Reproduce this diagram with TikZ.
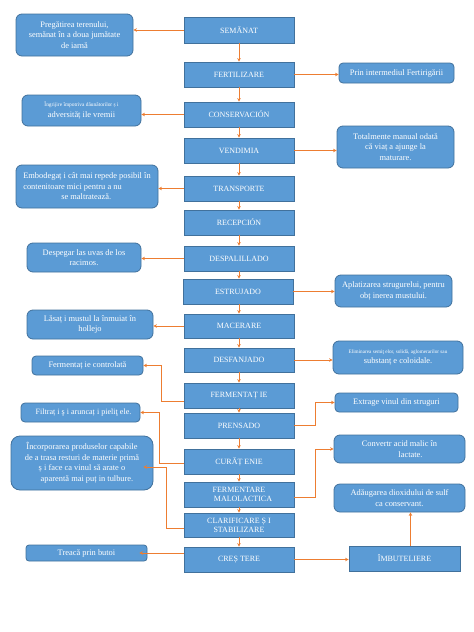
\documentclass[tikz,border=0pt]{standalone}
\usepackage{fontspec}
\setmainfont{Liberation Serif}
\usetikzlibrary{arrows.meta}
\definecolor{boxfill}{HTML}{5B9BD5}
\definecolor{boxline}{HTML}{41719C}
\definecolor{conncol}{HTML}{ED7D31}
\tikzset{
  mainbox/.style={draw=boxline, line width=0.8pt, fill=boxfill, text=white, inner sep=1pt, align=center,
    font=\fontsize{8}{9.5}\selectfont, minimum width=110pt, minimum height=25pt},
  sidebox/.style={draw=boxline, line width=0.8pt, fill=boxfill, text=white, inner sep=1pt, align=center,
    rounded corners=6pt, font=\fontsize{8.4}{10.5}\selectfont},
  conn/.style={draw=conncol, line width=0.7pt, -{Stealth[length=3.5pt,width=3.5pt]}}
}
\begin{document}
\begin{tikzpicture}[x=1pt,y=-1pt]
\useasboundingbox (0,0) rectangle (474,632);
% main column
\node[mainbox, minimum height=26pt] (sem) at (239,30) {SEMĂNAT};
\node[mainbox] (fer) at (239,74.5) {FERTILIZARE};
\node[mainbox] (con) at (239,114.5) {CONSERVACIÓN};
\node[mainbox] (ven) at (239,150.5) {VENDIMIA};
\node[mainbox] (tra) at (239,188.5) {TRANSPORTE};
\node[mainbox] (rec) at (239,222.5) {RECEPCIÓN};
\node[mainbox] (des) at (239,258.5) {DESPALILLADO};
\node[mainbox] (est) at (238,291.5) {ESTRUJADO};
\node[mainbox, minimum height=24pt] (mac) at (239,326) {MACERARE};
\node[mainbox, minimum height=24pt] (dfj) at (239,360) {DESFANJADO};
\node[mainbox] (fmt) at (239,395.5) {FERMENTAȚ IE};
\node[mainbox] (pre) at (239,425.5) {PRENSADO};
\node[mainbox] (cur) at (239,461.5) {CURĂȚ ENIE};
\node[mainbox, font=\fontsize{8}{9}\selectfont] (fml) at (239,494.5) {FERMENTARE\\ \hspace{8pt}MALOLACTICA};
\node[mainbox, minimum height=24pt, font=\fontsize{8}{9}\selectfont] (cla) at (239,525) {CLARIFICARE Ș I\\ STABILIZARE\hspace{14pt}};
\node[mainbox] (cre) at (239,559.5) {CREȘ TERE};
\node[mainbox, minimum width=111pt] (imb) at (404.5,558.5) {ÎMBUTELIERE};
% left boxes
\node[sidebox, minimum width=117pt, minimum height=42pt] (prg) at (74.5,35) {Pregătirea terenului,\\ semănat în a doua jumătate\\ de iarnă};
\node[sidebox, minimum width=119pt, minimum height=31pt] (ing) at (81.5,110.5) {{\fontsize{5.4}{7}\selectfont Îngrijire împotriva dăunătorilor ș i}\\ adversităț ile vremii};
\node[sidebox, minimum width=142pt, minimum height=43pt, align=left] (emb) at (87,186.5) {Embodegaț i cât mai repede posibil în\\ contenitoare mici pentru a nu\\ \hspace{38pt}se maltratează.};
\node[sidebox, minimum width=114pt, minimum height=29pt] (dsp) at (84,257.5) {Despegar las uvas de los\\ racimos.};
\node[sidebox, minimum width=126pt, minimum height=29pt] (las) at (90,324.5) {Lăsaț i mustul la înmuiat în\\ hollejo};
\node[sidebox, minimum width=111pt, minimum height=19pt, rounded corners=4pt] (fco) at (87.5,365.5) {Fermentaț ie controlată};
\node[sidebox, minimum width=119pt, minimum height=19pt, rounded corners=4pt, font=\fontsize{8.1}{9}\selectfont] (fil) at (80.5,412.5) {\hspace{6pt}Filtraț i ş i aruncaț i pieliţ ele.};
\node[sidebox, minimum width=142pt, minimum height=54pt, rounded corners=9pt] (inc) at (82,463) {Încorporarea produselor capabile\\ de a trasa resturi de materie primă\\ ș i face ca vinul să arate o\\ \hspace{10pt}aparentă mai puț in tulbure.};
\node[sidebox, minimum width=121pt, minimum height=16pt, rounded corners=3pt] (trb) at (86.5,553) {Treacă prin butoi};
% right boxes
\node[sidebox, minimum width=115pt, minimum height=20pt, rounded corners=4pt] (pin) at (396.5,73) {Prin intermediul Fertirigării};
\node[sidebox, minimum width=117pt, minimum height=42pt] (tot) at (395.5,147) {Totalmente manual odată\\ că viaț a ajunge la\\ maturare.};
\node[sidebox, minimum width=117pt, minimum height=32pt] (apl) at (393.5,291) {Aplatizarea strugurelui, pentru\\ obț inerea mustului.};
\node[sidebox, minimum width=130pt, minimum height=33pt] (eli) at (398,357.5) {{\fontsize{5.2}{8}\selectfont Eliminarea semiţ elor, solidă, aglomerarilor sau}\\ substanț e coloidale.};
\node[sidebox, minimum width=123pt, minimum height=19pt, rounded corners=4pt] (ext) at (396.5,402.5) {Extrage vinul din struguri};
\node[sidebox, minimum width=131pt, minimum height=28pt] (cnv) at (399.5,449) {Convertr acid malic în\\ \hspace{22pt}lactate.};
\node[sidebox, minimum width=131pt, minimum height=28pt] (adg) at (399.5,498) {Adăugarea dioxidului de sulf\\ ca conservant.\hspace{36pt}};
% main flow
\foreach \a/\b in {sem/fer,fer/con,con/ven,ven/tra,tra/rec,rec/des,des/est,est/mac,mac/dfj,dfj/fmt,fmt/pre,pre/cur,cur/fml,fml/cla,cla/cre}
  \draw[conn] (\a.south -| sem.south) -- (\b.north -| sem.north);
% left connectors
\draw[conn] (sem.west) -- (sem.west -| prg.east);
\draw[conn] (con.west) -- (con.west -| ing.east);
\draw[conn] (tra.west) -- (tra.west -| emb.east);
\draw[conn] (des.west) -- (des.west -| dsp.east);
\draw[conn] (mac.west) -- (mac.west -| las.east);
\draw[conn] ([yshift=-6pt]fmt.west) -- ++(-22,0) |- (fco.east);
\draw[conn] ([yshift=-1.5pt]cur.west) -- ++(-24,0) |- (fil.east);
\draw[conn] ([yshift=-3pt]cla.west) -- ++(-17,0) |- ([xshift=-10pt,yshift=-4pt]inc.east);
\draw[conn] (cre.west |- trb.east) -- ([xshift=-8pt]trb.east);
% right connectors
\draw[conn] (fer.east) -- (fer.east -| pin.west);
\draw[conn] (ven.east) -- (ven.east -| tot.west);
\draw[conn] (est.east) -- (est.east -| apl.west);
\draw[conn] (dfj.east) -- (dfj.east -| eli.west);
\draw[conn] (pre.east) -- ++(21,0) |- (ext.west);
\draw[conn] ([yshift=-3pt]fml.east) -- ++(21,0) |- (cnv.west);
\draw[conn] (cre.east) -- (cre.east -| imb.west);
\draw[conn] ([xshift=6pt]imb.north) -- ([xshift=6pt]imb.north |- adg.south);
\end{tikzpicture}
\end{document}
